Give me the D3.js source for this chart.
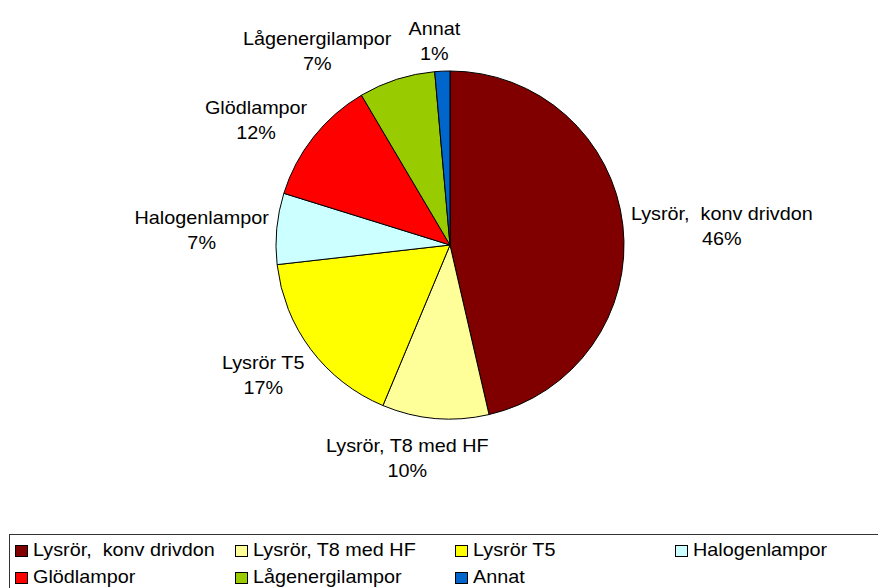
<!DOCTYPE html>
<html>
<head>
<meta charset="utf-8">
<script src="https://cdn.jsdelivr.net/npm/d3@7/dist/d3.min.js"></script>
<style>
  body { margin: 0; background: #fff; }
  text { font-family: "Liberation Sans", Arial, sans-serif; font-size: 18px; fill: #000; white-space: pre; }
</style>
</head>
<body>
<svg id="chart" width="878" height="588"></svg>
<script>
  'use strict';

  var categories = ['Lysrör,  konv drivdon', 'Lysrör, T8 med HF', 'Lysrör T5', 'Halogenlampor',
    'Glödlampor', 'Lågenergilampor', 'Annat'];
  var shares = [46.4, 9.9, 16.9, 6.6, 11.7, 7.1, 1.4];
  var colors = ['#800000', '#ffff99', '#ffff00', '#ccffff', '#ff0000', '#99cc00', '#0066cc'];

  var cx = 450, cy = 245, radius = 174;
  var stretch = 1.1;        // text is a little wider than plain Arial
  var lineGap = 25;
  var capH = 12.9;

  var svg = d3.select('#chart');
  var total = d3.sum(shares);

  var data = categories.map(function(c, i) {
    return { name: c, value: shares[i], color: colors[i] };
  });

  var pie = d3.pie()
    .sort(null)
    .value(function(d) { return d.value; });

  var arc = d3.arc()
    .innerRadius(0)
    .outerRadius(radius);

  var arcs = pie(data);

  var $pie = svg.append('g')
    .attr('transform', 'translate(' + cx + ',' + cy + ')');

  $pie.selectAll('path.slice')
    .data(arcs)
    .enter()
    .append('path')
    .attr('class', 'slice')
    .attr('d', arc)
    .attr('fill', function(d) { return d.data.color; })
    .attr('stroke', '#000')
    .attr('stroke-width', 1);

  // labels: name + percentage, placed outside the slice
  var $labels = svg.append('g');
  var boxes = [];

  arcs.forEach(function(a) {
    var pct = Math.round(a.data.value / total * 100) + '%';
    var $t = $labels.append('text')
      .attr('text-anchor', 'middle');
    $t.append('tspan').attr('x', 0).attr('y', 0).text(a.data.name);
    $t.append('tspan').attr('x', 0).attr('y', lineGap).text(pct);
    var w = 0;
    $t.selectAll('tspan').each(function() {
      w = Math.max(w, this.getComputedTextLength() * stretch);
    });
    var h = capH + lineGap + 16;
    var mid = (a.startAngle + a.endAngle) / 2;
    var s = Math.sin(mid), c = Math.cos(mid);
    var r = radius + 8;
    var px = cx + r * s, py = cy - r * c;
    var bx = px + (s < 0 ? -1 : 1) * Math.min(1, 0.25 + Math.abs(s)) * w / 2;
    var by = py - c * h / 2 + 5;
    boxes.push({ el: $t, x: bx, y: by, w: w, h: h, s: s });
  });

  // push overlapping labels apart, last slice first
  for (var i = boxes.length - 1; i >= 0; i--) {
    var b = boxes[i];
    for (var j = boxes.length - 1; j > i; j--) {
      var o = boxes[j];
      var overlapX = Math.abs(b.x - o.x) < (b.w + o.w) / 2;
      var overlapY = Math.abs(b.y - o.y) < (b.h + o.h) / 2;
      if (overlapX && overlapY) {
        if (b.s < 0) {
          b.x = o.x - o.w / 2 - 17 - b.w / 2;
        } else {
          b.x = o.x + o.w / 2 + 17 + b.w / 2;
        }
      }
    }
  }

  boxes.forEach(function(b) {
    var base = b.y - (capH + lineGap) / 2 + capH;
    b.el.attr('transform', 'translate(' + b.x + ',' + base + ') scale(' + stretch + ',1)');
  });

  // legend
  var $legend = svg.append('g');
  $legend.append('rect')
    .attr('x', 9.5)
    .attr('y', 534.5)
    .attr('width', 900)
    .attr('height', 100)
    .attr('fill', 'none')
    .attr('stroke', '#333')
    .attr('stroke-width', 1);

  var $items = $legend.selectAll('g.item')
    .data(data)
    .enter()
    .append('g')
    .attr('class', 'item')
    .attr('transform', function(d, i) {
      return 'translate(' + (15 + (i % 4) * 220) + ',' + (545 + Math.floor(i / 4) * 27) + ')';
    });

  $items.append('rect')
    .attr('x', 0.5)
    .attr('y', 0.5)
    .attr('width', 12)
    .attr('height', 11)
    .attr('fill', function(d) { return d.color; })
    .attr('stroke', '#000')
    .attr('stroke-width', 1);

  $items.append('text')
    .attr('transform', 'translate(18,11) scale(' + stretch + ',1)')
    .text(function(d) { return d.name; });
</script>
</body>
</html>
